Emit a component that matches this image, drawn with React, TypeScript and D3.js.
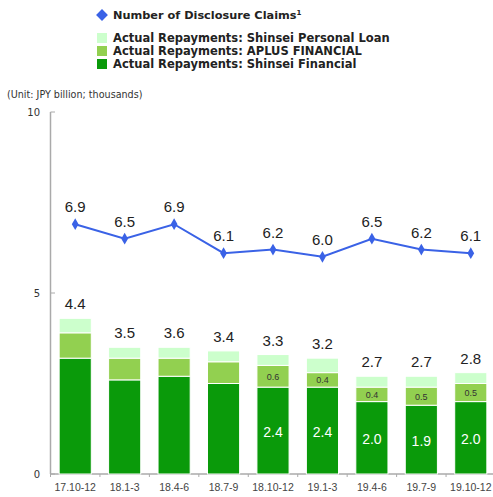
import React from "react";
import * as d3 from "d3";

const categories = ["17.10-12", "18.1-3", "18.4-6", "18.7-9", "18.10-12", "19.1-3", "19.4-6", "19.7-9", "19.10-12"];
const shinseiFinancial = [3.2, 2.6, 2.7, 2.5, 2.4, 2.4, 2.0, 1.9, 2.0];
const aplusFinancial = [0.7, 0.6, 0.5, 0.6, 0.6, 0.4, 0.4, 0.5, 0.5];
const shinseiPersonalLoan = [0.4, 0.3, 0.3, 0.3, 0.3, 0.4, 0.3, 0.3, 0.3];
const totalLabels = ["4.4", "3.5", "3.6", "3.4", "3.3", "3.2", "2.7", "2.7", "2.8"];
const sfLabels = ["", "", "", "", "2.4", "2.4", "2.0", "1.9", "2.0"];
const aplusLabels = ["", "", "", "", "0.6", "0.4", "0.4", "0.5", "0.5"];
const claims = [6.9, 6.5, 6.9, 6.1, 6.2, 6.0, 6.5, 6.2, 6.1];
const yTicks = [0, 5, 10];

const W = 493, H = 497;
const C_DARK = "#0a9a0a";
const C_MID = "#92d050";
const C_LIGHT = "#ccffcc";
const C_BLUE = "#3a62e6";

export default function App() {
  const x = d3.scaleBand<string>().domain(categories).range([50.5, 495.5]).paddingInner(0.35).paddingOuter(0.175);
  const y = d3.scaleLinear().domain([0, 10]).range([474, 112]);
  const bw = x.bandwidth();
  const cx = (c: string) => (x(c) as number) + bw / 2;

  const stackData = categories.map((c, i) => ({ c, sf: shinseiFinancial[i], ap: aplusFinancial[i], pl: shinseiPersonalLoan[i] }));
  const stack = d3.stack<any>().keys(["sf", "ap", "pl"])(stackData);
  const colors: Record<string, string> = { sf: C_DARK, ap: C_MID, pl: C_LIGHT };

  const line = d3.line<number>().x((_, i) => cx(categories[i])).y((d) => y(d));
  const diamond = d3.symbol().type(d3.symbolDiamond).size(40)();
  const legendDiamond = d3.symbol().type(d3.symbolSquare).size(70)();

  const font = "'Liberation Sans', Arial, sans-serif";
  const legendFont = "'DejaVu Sans', Verdana, sans-serif";

  const legendItems = [
    { label: "Actual Repayments: Shinsei Personal Loan", color: C_LIGHT, y: 38 },
    { label: "Actual Repayments: APLUS FINANCIAL", color: C_MID, y: 51 },
    { label: "Actual Repayments: Shinsei Financial", color: C_DARK, y: 64 },
  ];

  return (
    <svg width={W} height={H} style={{ position: "absolute", left: 0, top: 0, background: "#fff" }}>
      {/* legend */}
      <path d={legendDiamond as string} transform="translate(102,15) rotate(45)" fill={C_BLUE} />
      <text x={113} y={19} fontFamily={legendFont} fontWeight="bold" fontSize={11.3} fill="#222">
        Number of Disclosure Claims<tspan fontSize={7} dy={-4}>1</tspan>
      </text>
      {legendItems.map((l) => (
        <g key={l.label}>
          <rect x={97} y={l.y - 5} width={10} height={10} fill={l.color} />
          <text x={113} y={l.y + 4} fontFamily={legendFont} fontWeight="bold" fontSize={11.5} fill="#222">{l.label}</text>
        </g>
      ))}

      <text x={7} y={98} fontFamily={legendFont} fontSize={9.6} fill="#333">(Unit: JPY billion; thousands)</text>

      {/* axes */}
      <line x1={50.5} x2={50.5} y1={y(10)} y2={y(0)} stroke="#aaa" strokeWidth={1.5} />
      <line x1={50.5} x2={495} y1={y(0)} y2={y(0)} stroke="#aaa" strokeWidth={1.5} />
      {yTicks.map((t) => (
        <g key={t}>
          <line x1={50.5} x2={55} y1={y(t)} y2={y(t)} stroke="#aaa" strokeWidth={1} />
          <text x={40} y={y(t) + 4} textAnchor="end" fontFamily={legendFont} fontSize={10} fill="#333">{t}</text>
        </g>
      ))}
      {categories.map((c) => (
        <line key={c} x1={(x(c) as number) - x.step() * 0.35 / 2} x2={(x(c) as number) - x.step() * 0.35 / 2} y1={y(0)} y2={y(0) + 3} stroke="#aaa" strokeWidth={1} />
      ))}

      {/* bars */}
      {stack.map((s) => (
        <g key={s.key} fill={colors[s.key]}>
          {s.map((d, i) => (
            <rect key={i} x={x(categories[i])} y={y(d[1])} width={bw} height={y(d[0]) - y(d[1])} stroke="#fff" strokeWidth={1} />
          ))}
        </g>
      ))}

      {/* bar labels */}
      {categories.map((c, i) => (
        <g key={c} fontFamily={font}>
          <text x={cx(c)} y={y(stack[2][i][1]) - 9} textAnchor="middle" fontSize={15} fill="#222">{totalLabels[i]}</text>
          {sfLabels[i] && (
            <text x={cx(c)} y={(y(stack[0][i][0]) + y(stack[0][i][1])) / 2 + 6} textAnchor="middle" fontSize={14} fill="#fff">{sfLabels[i]}</text>
          )}
          {aplusLabels[i] && (
            <text x={cx(c)} y={(y(stack[1][i][0]) + y(stack[1][i][1])) / 2 + 3.5} textAnchor="middle" fontSize={9} fill="#333">{aplusLabels[i]}</text>
          )}
          <text x={cx(c)} y={491} textAnchor="middle" fontSize={10.5} fill="#444">{c}</text>
        </g>
      ))}

      {/* line */}
      <path d={line(claims) as string} fill="none" stroke={C_BLUE} strokeWidth={2} />
      {claims.map((v, i) => (
        <g key={i}>
          <path d={diamond as string} transform={`translate(${cx(categories[i])},${y(v)})`} fill={C_BLUE} />
          <text x={cx(categories[i])} y={y(v) - 12} textAnchor="middle" fontFamily={font} fontSize={15} fill="#222">{v.toFixed(1)}</text>
        </g>
      ))}
    </svg>
  );
}
